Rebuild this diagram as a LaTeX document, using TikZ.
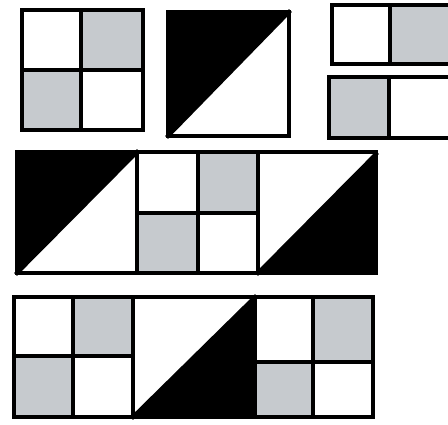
\documentclass[tikz,border=0pt]{standalone}
\definecolor{cellgray}{RGB}{198,202,206}
\begin{document}
\begin{tikzpicture}[x=1pt,y=-1pt,
  frame/.style={line width=4pt,line cap=rect,line join=miter},
  grayfill/.style={fill=cellgray},
  blackfill/.style={fill=black}]
\useasboundingbox (0,0) rectangle (448,425);
% ---- top row, figure A ----
\fill[grayfill] (81,10) rectangle (143,70);
\fill[grayfill] (22,70) rectangle (81,130);
\draw[frame] (22,10) rectangle (143,130);
\draw[frame] (81,10) -- (81,130);
\draw[frame] (22,70) -- (143,70);
% ---- top row, figure B ----
\fill[blackfill] (168,12) -- (289,12) -- (168,136) -- cycle;
\draw[frame] (168,12) rectangle (289,136);
\draw[frame] (168,136) -- (289,12);
% ---- top row, figure C ----
\fill[grayfill] (390,5) rectangle (452,64);
\draw[frame] (332,5) rectangle (452,64);
\draw[frame] (390,5) -- (390,64);
\fill[grayfill] (329,77) rectangle (389,138);
\draw[frame] (329,77) rectangle (452,138);
\draw[frame] (389,77) -- (389,138);
% ---- middle row ----
\fill[blackfill] (17,152) -- (137,152) -- (17,273) -- cycle;
\fill[blackfill] (376,154) -- (376,273) -- (258,273) -- cycle;
\fill[grayfill] (198,152) rectangle (258,213);
\fill[grayfill] (137,213) rectangle (198,273);
\draw[frame] (17,152) rectangle (376,273);
\draw[frame] (137,152) -- (137,273);
\draw[frame] (258,152) -- (258,273);
\draw[frame] (198,152) -- (198,273);
\draw[frame] (137,213) -- (258,213);
\draw[frame] (17,273) -- (137,152);
\draw[frame] (258,273) -- (376,154);
% ---- bottom row ----
\fill[grayfill] (73,297) rectangle (133,356);
\fill[grayfill] (14,356) rectangle (73,417);
\fill[blackfill] (255,297) -- (255,417) -- (133,417) -- cycle;
\fill[grayfill] (313,297) rectangle (373,362);
\fill[grayfill] (255,362) rectangle (313,417);
\draw[frame] (14,297) rectangle (373,417);
\draw[frame] (133,297) -- (133,417);
\draw[frame] (255,297) -- (255,417);
\draw[frame] (73,297) -- (73,417);
\draw[frame] (14,356) -- (133,356);
\draw[frame] (313,297) -- (313,417);
\draw[frame] (255,362) -- (373,362);
\draw[frame] (133,417) -- (255,297);
\end{tikzpicture}
\end{document}
